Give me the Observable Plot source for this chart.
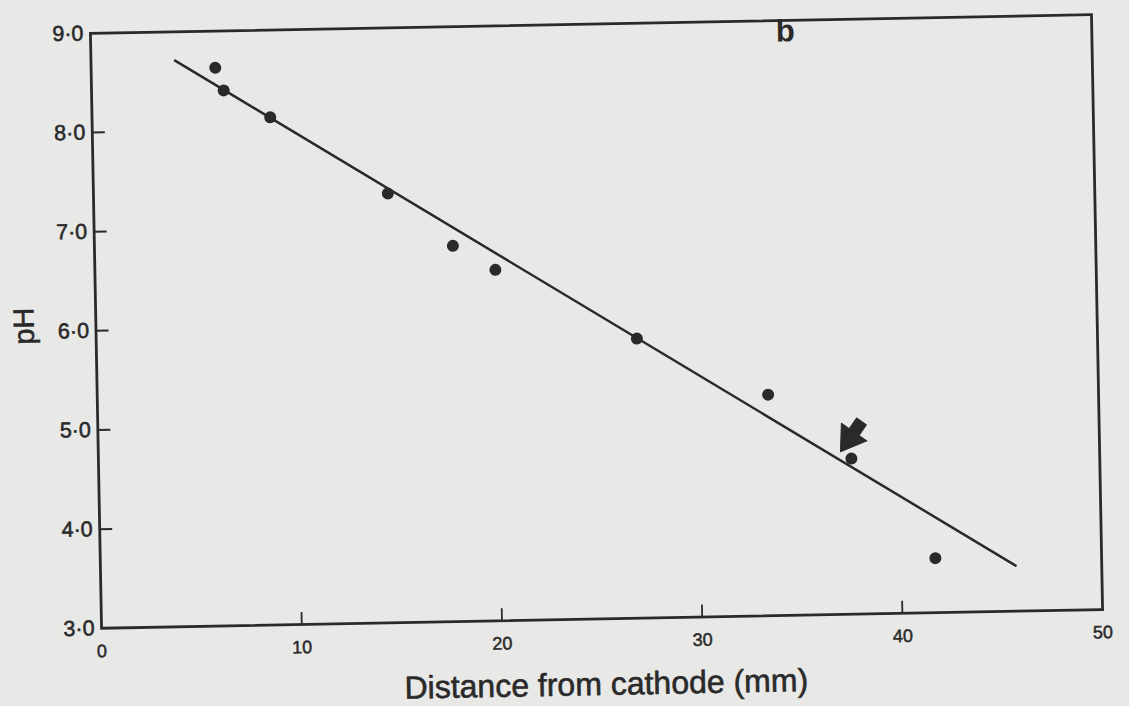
<!DOCTYPE html>
<html>
<head>
<meta charset="utf-8">
<script src="https://cdn.jsdelivr.net/npm/d3@7"></script>
<script src="https://cdn.jsdelivr.net/npm/@observablehq/plot@0.6"></script>
<style>
  html, body { margin: 0; padding: 0; background: #e8e8e7; overflow: hidden; }
  #chart svg { display: block; transform: rotate(-1.07deg); transform-origin: 596px 321px; }
</style>
</head>
<body>
<div id="chart"></div>
<script>
// Measured points (distance from cathode in mm, pH)
const distance = [6.2, 6.6, 8.9, 14.7, 17.9, 20.0, 27.0, 33.5, 37.6, 41.7];
const pHValues = [8.63, 8.40, 8.12, 7.33, 6.79, 6.54, 5.82, 5.23, 4.57, 3.55];

// Fitted line end points
const fitDistance = [4.2, 45.7];
const fitPH = [8.71, 3.46];

// Arrow pointing at the marked sample (tip position)
const arrowDistance = [37.06];
const arrowPH = [4.64];

// Panel label
const panelText = ["b"];
const panelDistance = [34.7];
const panelPH = [8.89];

// Ticks and labels
const xTicks = [0, 10, 20, 30, 40, 50];
const yTicks = [3, 4, 5, 6, 7, 8, 9];
const xLabel = ["Distance from cathode (mm)"];
const yLabel = ["pH"];

const points = distance.map((d, i) => ({distance: d, pH: pHValues[i]}));
const fit = fitDistance.map((d, i) => ({distance: d, pH: fitPH[i]}));
const arrows = arrowDistance.map((d, i) => ({distance: d, pH: arrowPH[i]}));
const panels = panelText.map((t, i) => ({distance: panelDistance[i], pH: panelPH[i], text: t}));

const ink = "#2a2a2a";

const arrowShape = {
  draw(context, l) {
    const hl = 24, hw = 15.5, sw = 6;
    context.moveTo(0, -l);
    context.lineTo(hw, -l + hl);
    context.lineTo(sw, -l + hl);
    context.lineTo(sw, 0);
    context.lineTo(-sw, 0);
    context.lineTo(-sw, -l + hl);
    context.lineTo(-hw, -l + hl);
    context.closePath();
  }
};

const chart = Plot.plot({
  width: 1129,
  height: 706,
  marginLeft: 95.4,
  marginRight: 32.4,
  marginTop: 23.5,
  marginBottom: 87.5,
  style: {background: "transparent", fontFamily: "'Liberation Sans', Arial, sans-serif", color: ink},
  x: {domain: [0, 50]},
  y: {domain: [3, 9]},
  marks: [
    Plot.frame({stroke: ink, strokeWidth: 2.8}),
    Plot.axisX(xTicks, {tickSize: 0, tickPadding: 16, fontSize: 18, label: null, fill: ink,
      textStroke: ink, textStrokeWidth: 0.5}),
    Plot.axisX(xTicks.slice(1, -1), {tickSize: -12, tickFormat: () => "", strokeWidth: 1.8, label: null, stroke: ink}),
    Plot.axisY(yTicks, {tickSize: 0, tickPadding: 7, fontSize: 21.5, label: null, fill: ink,
      textStroke: ink, textStrokeWidth: 0.6,
      tickFormat: d => d.toFixed(1).replace(".", "\u00b7")}),
    Plot.axisY(yTicks.slice(1, -1), {tickSize: -13, tickFormat: () => "", strokeWidth: 2, label: null, stroke: ink}),
    Plot.line(fit, {x: "distance", y: "pH", stroke: ink, strokeWidth: 2.5}),
    Plot.dot(points, {x: "distance", y: "pH", r: 6, fill: ink, stroke: "none"}),
    Plot.vector(arrows, {x: "distance", y: "pH", anchor: "end", rotate: 215.7, length: 37,
      shape: arrowShape, fill: ink, stroke: ink, strokeWidth: 1}),
    Plot.text(panels, {x: "distance", y: "pH", text: "text", fontSize: 31, fontWeight: "bold",
      lineAnchor: "middle", textAnchor: "middle", fill: ink}),
    Plot.text(xLabel, {frameAnchor: "bottom", dx: 3, dy: 76, text: d => d, lineAnchor: "bottom",
      textAnchor: "middle", fontSize: 32, fill: ink, stroke: ink, strokeWidth: 0.6}),
    Plot.text(yLabel, {frameAnchor: "left", dx: -71.4, dy: -6, text: d => d, rotate: -90,
      lineAnchor: "middle", textAnchor: "middle", fontSize: 29, fill: ink, stroke: ink, strokeWidth: 0.6})
  ]
});

document.getElementById("chart").appendChild(chart);
</script>
</body>
</html>
